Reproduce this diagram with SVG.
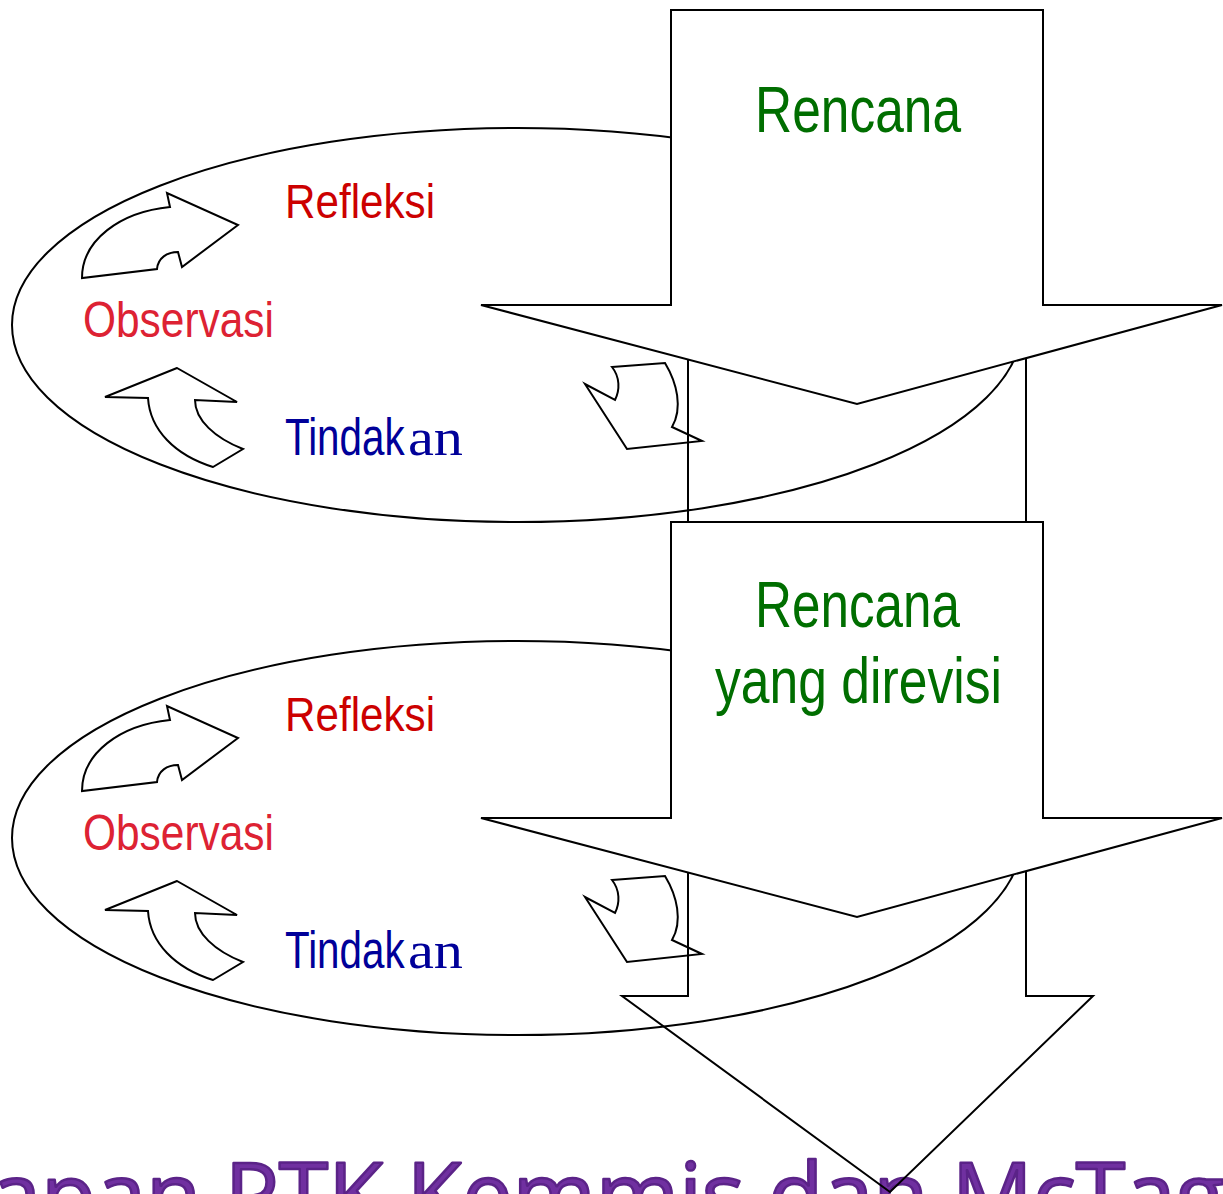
<svg xmlns="http://www.w3.org/2000/svg" width="1223" height="1194" viewBox="0 0 1223 1194">
<style>
.ln{fill:none;stroke:#000;stroke-width:2;stroke-linejoin:miter}
.blk{fill:#fff;stroke:#000;stroke-width:2}
.cv{fill:#fff;stroke:#000;stroke-width:2;stroke-linejoin:miter}
.sans{font-family:"Liberation Sans",Arial,sans-serif}
.serif{font-family:"Liberation Serif","Times New Roman",serif}
.green{fill:#006e00;font-size:64px}
.refl{fill:#cc0000;font-size:49px}
.obs{fill:#dd2233;font-size:50px}
.tin{fill:#000099;font-size:52px}
.title{font-family:"Open Sans","Noto Sans",sans-serif;font-size:90px;fill:#7030a0;stroke:#5b2388;stroke-width:2.5;stroke-linejoin:round}
</style>
<defs>
<g id="arrows">
<path class="cv" d="M170,207 C120,212 82,240 82,278 L157,269 C158,258 167,252 178,252 L182,267 L238,225 L167,193 Z"/>
<path class="cv" d="M177,368 L105,397 L148,398 C150,430 175,455 213,467 L243,449 C215,438 195,420 195,400 L237,402 Z"/>
<path class="cv" d="M612,367 L665,363 C677,383 683,408 672,427 L702,441 L627,449 L585,384 L615,400 C620,390 620,377 612,367 Z"/>
</g>
</defs>
<text id="title" class="title" x="-9" y="1227">apan PTK Kemmis dan McTag</text>
<g id="cycle1">
<ellipse class="ln" cx="517" cy="325" rx="505" ry="197"/>
<use href="#arrows"/>
</g>
<g id="cycle2">
<ellipse class="ln" cx="517" cy="838" rx="505" ry="197"/>
<use href="#arrows" transform="translate(0,513)"/>
</g>
<g id="connectors">
<path class="ln" d="M688,300 L1026,300 L1026,996 L1093,996 L890,1192 L622,996 L688,996 Z"/>
</g>
<g id="plan1">
<path class="blk" d="M671,10 L1043,10 L1043,305 L1222,305 L857,404 L481,305 L671,305 Z"/>
<text class="sans green" x="755" y="132" textLength="206" lengthAdjust="spacingAndGlyphs">Rencana</text>
</g>
<g id="plan2">
<path class="blk" d="M671,522 L1043,522 L1043,818 L1222,818 L857,917 L481,818 L671,818 Z"/>
<text class="sans green" x="755" y="627" textLength="205" lengthAdjust="spacingAndGlyphs">Rencana</text>
<text class="sans green" x="715" y="703" textLength="287" lengthAdjust="spacingAndGlyphs">yang direvisi</text>
</g>
<g id="labels1">
<text class="sans refl" x="285" y="218" textLength="150" lengthAdjust="spacingAndGlyphs">Refleksi</text>
<text class="sans obs" x="83" y="337" textLength="191" lengthAdjust="spacingAndGlyphs">Observasi</text>
<text class="sans tin" transform="translate(285,455) scale(0.776,1)">Tindak</text>
<text class="serif tin" x="408" y="455" font-size="51" textLength="55" lengthAdjust="spacingAndGlyphs">an</text>
</g>
<g id="labels2">
<text class="sans refl" x="285" y="731" textLength="150" lengthAdjust="spacingAndGlyphs">Refleksi</text>
<text class="sans obs" x="83" y="850" textLength="191" lengthAdjust="spacingAndGlyphs">Observasi</text>
<text class="sans tin" transform="translate(285,968) scale(0.776,1)">Tindak</text>
<text class="serif tin" x="408" y="968" font-size="51" textLength="55" lengthAdjust="spacingAndGlyphs">an</text>
</g>
</svg>
